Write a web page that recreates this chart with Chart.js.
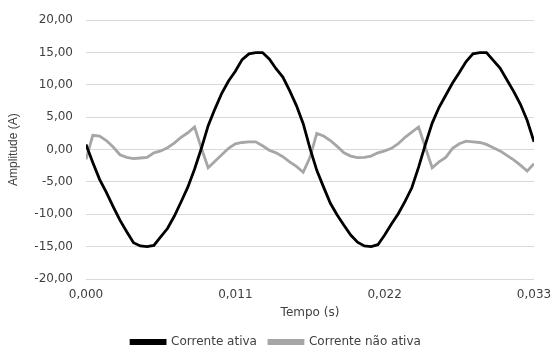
<!DOCTYPE html>
<html>
<head>
<meta charset="utf-8">
<script src="https://cdn.jsdelivr.net/npm/chart.js@4/dist/chart.umd.min.js"></script>
<style>
  html, body { margin: 0; padding: 0; background: #ffffff; }
  #wrap { width: 552px; height: 358px; position: relative; }
</style>
</head>
<body>
<div id="wrap"><canvas id="c" width="552" height="358"></canvas></div>
<script>
// Time (s) of each sample
const times = [
  0.0000, 0.0005, 0.0010, 0.0015, 0.0020, 0.0025, 0.0030, 0.0035, 0.0040, 0.0045,
  0.0050, 0.0055, 0.0060, 0.0065, 0.0070, 0.0075, 0.0080, 0.0085, 0.0090, 0.0095,
  0.0100, 0.0105, 0.0110, 0.0115, 0.0120, 0.0125, 0.0130, 0.0135, 0.0140, 0.0145,
  0.0150, 0.0155, 0.0160, 0.0165, 0.0170, 0.0175, 0.0180, 0.0185, 0.0190, 0.0195,
  0.0200, 0.0205, 0.0210, 0.0215, 0.0220, 0.0225, 0.0230, 0.0235, 0.0240, 0.0245,
  0.0250, 0.0255, 0.0260, 0.0265, 0.0270, 0.0275, 0.0280, 0.0285, 0.0290, 0.0295,
  0.0300, 0.0305, 0.0310, 0.0315, 0.0320, 0.0325, 0.0330
];
// Corrente ativa (A)
const correnteAtiva = [
   0.8,  -2.0,  -4.6,  -6.6,  -8.8, -10.9, -12.7, -14.4, -14.9, -15.0,
 -14.8, -13.5, -12.2, -10.3,  -8.1,  -5.8,  -3.0,   0.2,   3.7,   6.3,
   8.7,  10.6,  12.1,  13.9,  14.8,  15.0,  15.0,  14.0,  12.5,  11.2,
   9.1,   6.8,   4.0,   0.2,  -3.2,  -5.8,  -8.3, -10.1, -11.7, -13.2,
 -14.3, -14.9, -15.0, -14.7, -13.2, -11.5,  -9.9,  -8.0,  -5.9,  -2.7,
   0.8,   4.1,   6.5,   8.4,  10.3,  11.9,  13.6,  14.8,  15.0,  15.0,
  13.8,  12.6,  10.8,   9.0,   7.0,   4.5,   1.2
];
// Corrente não ativa (A)
const correnteNaoAtiva = [
  -1.5,   2.2,   2.1,   1.4,   0.4,  -0.8,  -1.2,  -1.4,  -1.3,  -1.2,
  -0.5,  -0.2,   0.3,   1.0,   1.9,   2.6,   3.5,   0.2,  -2.8,  -1.8,
  -0.8,   0.2,   0.9,   1.1,   1.2,   1.2,   0.6,  -0.1,  -0.5,  -1.1,
  -1.9,  -2.6,  -3.5,  -1.2,   2.5,   2.1,   1.4,   0.5,  -0.5,  -1.0,
  -1.25, -1.2,  -1.0,  -0.5,  -0.2,   0.2,   0.9,   1.9,   2.7,   3.5,
   0.3,  -2.8,  -1.9,  -1.2,   0.2,   0.9,   1.3,   1.2,   1.1,   0.8,
   0.3,  -0.2,  -0.9,  -1.6,  -2.4,  -3.3,  -2.2
];
// Tick labels
const xTicks = [0, 0.011, 0.022, 0.033];
const yTicks = [-20, -15, -10, -5, 0, 5, 10, 15, 20];
const seriesNames = ['Corrente ativa', 'Corrente não ativa'];
const xTitle = 'Tempo (s)';
const yTitle = 'Amplitude (A)';

const toPts = vals => times.map((t, i) => ({ x: t, y: vals[i] }));
const comma = (v, d) => v.toFixed(d).replace('.', ',');

const FONT = 'DejaVu Sans';
const TXT = '#404040';

new Chart(document.getElementById('c'), {
  type: 'line',
  data: {
    datasets: [
      { label: seriesNames[0], data: toPts(correnteAtiva), borderColor: '#000000', backgroundColor: '#000000',
        borderWidth: 2.8, pointRadius: 0, tension: 0 },
      { label: seriesNames[1], data: toPts(correnteNaoAtiva), borderColor: '#a6a6a6', backgroundColor: '#a6a6a6',
        borderWidth: 2.8, pointRadius: 0, tension: 0 }
    ]
  },
  options: {
    responsive: false,
    animation: false,
    devicePixelRatio: 1,
    layout: { padding: { left: 0, right: 0, top: 20, bottom: 0 } },
    plugins: {
      tooltip: { enabled: false },
      legend: {
        position: 'bottom',
        labels: {
          font: { family: FONT, size: 12 }, color: TXT,
          boxWidth: 34, boxHeight: 3, padding: 12
        }
      }
    },
    scales: {
      x: {
        type: 'linear', min: 0, max: 0.033,
        afterBuildTicks: s => { s.ticks = xTicks.map(v => ({ value: v })); },
        afterFit: s => { s.height = 45; s.paddingRight = 18; },
        grid: { display: false, drawTicks: false },
        border: { display: false },
        ticks: { font: { family: FONT, size: 12 }, color: TXT, padding: 9, maxRotation: 0,
                 callback: v => comma(v, 3) },
        title: { display: true, text: xTitle, font: { family: FONT, size: 12 }, color: TXT, padding: { top: 2, bottom: 4 } }
      },
      y: {
        type: 'linear', min: -20, max: 20,
        afterBuildTicks: s => { s.ticks = yTicks.map(v => ({ value: v })); },
        afterFit: s => { s.width = 86; },
        grid: { color: '#d9d9d9', lineWidth: 1, drawTicks: false },
        border: { display: false },
        ticks: { font: { family: FONT, size: 12 }, color: TXT, padding: 13,
                 callback: v => comma(v, 2) },
        title: { display: true, text: yTitle, font: { family: 'Liberation Sans', size: 12 }, color: TXT, padding: { top: 6, bottom: 0 } }
      }
    }
  }
});
</script>
</body>
</html>
